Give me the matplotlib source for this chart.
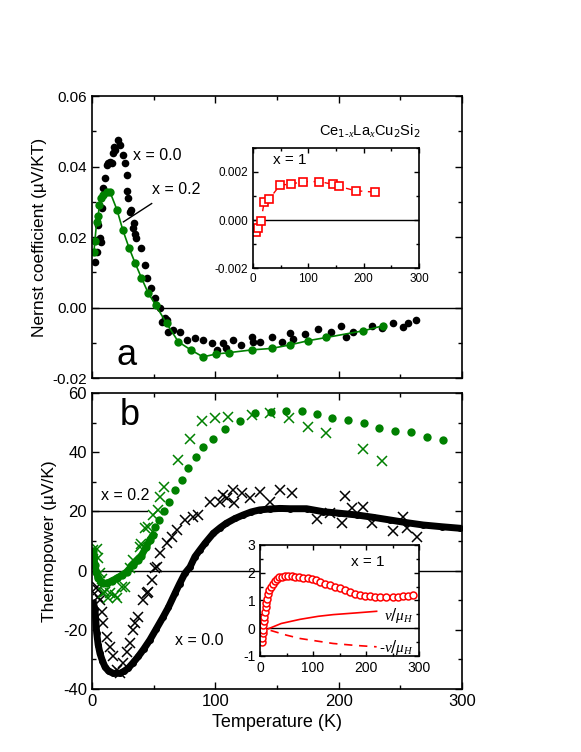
import matplotlib
matplotlib.use("Agg")
import matplotlib.pyplot as plt
from matplotlib.ticker import MultipleLocator, FormatStrFormatter

plt.rcParams["font.family"] = ["Liberation Sans", "DejaVu Sans"]
plt.rcParams["axes.unicode_minus"] = False
plt.rcParams["mathtext.fontset"] = "custom"
plt.rcParams["mathtext.it"] = "Liberation Serif:italic"

GREEN = "#008000"
RED = "#ff0000"

# ---- panel a: Nernst coefficient ----
t_n00 = [2.4, 3.8, 5, 6.5, 7, 7.8, 9, 10.5, 12, 12.7, 14.6, 16, 17, 17.5, 19, 21,
         22.7, 25, 26.8, 28, 28.6, 29.5, 31, 32, 33, 34, 35, 36, 40, 43, 45, 48,
         51, 55, 56.5, 59, 60.5, 62, 66, 71, 77, 83.5, 90, 97, 101, 106, 109,
         114.5, 121, 129.5, 130.5, 136, 145.7, 154, 160.5, 163, 173, 183, 194,
         202, 205.7, 211.7, 226.7, 235, 244, 252, 256, 263]
n_n00 = [0.0129, 0.0157, 0.0234, 0.0197, 0.0185, 0.0282, 0.034, 0.0367, 0.0404,
         0.041, 0.0413, 0.041, 0.0438, 0.0455, 0.0447, 0.0475, 0.046, 0.0433,
         0.041, 0.0376, 0.033, 0.031, 0.027, 0.0277, 0.0225, 0.024, 0.021,
         0.0197, 0.0169, 0.012, 0.0084, 0.0055, 0.0027, 0.0, -0.004, -0.003,
         -0.0036, -0.0069, -0.0064, -0.0069, -0.0092, -0.0087, -0.0092, -0.0101,
         -0.012, -0.0101, -0.0115, -0.0092, -0.0106, -0.0083, -0.0097, -0.0097,
         -0.0083, -0.0097, -0.0073, -0.0089, -0.0075, -0.0061, -0.0069, -0.0052,
         -0.0083, -0.0069, -0.0052, -0.0058, -0.0043, -0.0055, -0.0044, -0.0035]

t_n02 = [1.6, 2.4, 3.8, 5.1, 5.9, 7.3, 9, 12, 14.6, 20.3, 25, 30, 35, 40, 45.5,
         51.6, 60.5, 70, 80, 90, 100.5, 111, 130, 145.7, 160.5, 175.4, 190, 220,
         235.7]
n_n02 = [0.0158, 0.019, 0.0243, 0.026, 0.029, 0.031, 0.0319, 0.0329, 0.0328,
         0.0277, 0.022, 0.017, 0.0126, 0.0085, 0.0042, 0.0007, -0.0045, -0.0097,
         -0.012, -0.014, -0.0132, -0.0128, -0.012, -0.0116, -0.0106, -0.0094,
         -0.0085, -0.0066, -0.0052]

# inset a: x = 1
t_n10 = [5.4, 9.6, 14.5, 20, 29.5, 49, 68, 90, 120, 144, 154.6, 185.7, 220.6]
n_n10 = [-0.00051, -0.00032, -0.00004, 0.00074, 0.00088, 0.00146, 0.00149,
         0.0016, 0.0016, 0.00149, 0.0014, 0.00122, 0.00116]

# ---- panel b: thermopower ----
t_s02_dense = [0.8, 1.5, 2.4, 3.5, 5, 7, 9, 12, 16, 20, 24, 28, 33, 37, 40, 44,
               47, 49.6]
s_s02_dense = [6.5, 4.5, 2.0, -0.5, -2.5, -3.8, -4.3, -4.3, -3.5, -2.6, -1.6,
               -0.5, 1.9, 3.6, 5.0, 8.0, 10.5, 12.0]
t_s02 = [51, 54.6, 58.4, 62.7, 67.3, 72.7, 78, 84.3, 90.3, 98, 108, 120, 132.5,
         145, 157.3, 170, 182.7, 195, 208, 220.5, 233, 245.7, 259, 271.4, 284.4]
s_s02 = [14.8, 17, 20.2, 23.3, 27.2, 30.6, 34.5, 38.5, 41.9, 44.5, 47.9, 50.5,
         53.1, 53.6, 54, 53.8, 52.9, 51.4, 50.9, 49.8, 48.3, 47.3, 46.9, 45.2,
         44.1]

t_x02 = [1, 3.8, 5, 6.5, 7.8, 9.2, 10.5, 13.2, 14.6, 18.6, 20, 24, 27, 31, 33.5,
         39, 40, 43, 45.7, 49.7, 53.8, 55, 58.6, 70, 79.6, 89.4, 99.8, 110.5,
         129.5, 144.3, 160, 175.4, 190, 220, 235]
s_x02 = [7, 7.2, 4.3, -0.8, -3, -7.7, -7.1, -9.4, -7.7, -8.2, -9.4, -5.4, -5.4,
         0.9, 3.6, 8, 9, 14.3, 14.8, 18.8, 20.5, 25, 28.3, 37.4, 44.4, 50.5, 51.4,
         52, 52.6, 53.1, 51.4, 48.6, 46.4, 41.2, 37.1]

t_s00 = [1.2, 2.4, 3.8, 5, 6.5, 8.5, 10.5, 13.5, 17.3, 22.7, 26, 29.4, 33, 37.6,
         42, 47, 52, 57.8, 62, 67.3, 71, 75.4, 79.5, 83.5, 87.6, 91.6, 98.4, 104,
         109, 116, 122.7, 129, 136, 144, 152.4, 160.5, 174, 187.5, 200, 214.6,
         228, 241.6, 255, 268.6, 284, 298.4]
s_s00 = [-11, -13, -21, -25, -28, -30.5, -32.5, -34, -34.7, -34.7, -34, -33,
         -31.3, -29, -26.5, -23.4, -19.8, -15.6, -12.4, -7.7, -4.5, -0.9, 1.2,
         4.7, 7, 9.2, 12.6, 14.5, 16, 17.6, 18.8, 19.8, 20.5, 20.8, 21, 20.9,
         20.9, 19.9, 19.4, 18.8, 18, 17.1, 16.2, 15.4, 14.8, 14.3]

t_x00 = [3.8, 5.1, 5, 6.5, 7.8, 9.2, 12, 14.6, 17.3, 20, 22.7, 25.3, 28, 30.8,
         33.5, 34.9, 37.6, 41.6, 44.3, 45.7, 48.4, 51, 52.4, 55, 60.5, 64.6,
         68.6, 75.4, 82.2, 86.2, 95.7, 103.8, 106.5, 109.2, 114.6, 115.1, 121.4,
         128, 136.2, 144.3, 152.4, 162, 182.2, 193, 202.5, 205, 210.5, 219.5,
         226.8, 243.8, 252.4, 255.7, 263.3]
s_x00 = [-5.4, -6.6, -8.8, -9.9, -13.9, -17.8, -22.3, -25.7, -29, -33.6, -34.7,
         -31.3, -27.4, -24.6, -20, -17.8, -15.6, -9.9, -7.7, -7.1, -3.2, 0.8,
         1.3, 5.8, 9.2, 11.5, 13.7, 17.1, 18.2, 18.8, 23.3, 23.3, 25.5, 24.4,
         27.2, 22.7, 26.1, 24.4, 26.7, 23.3, 27.2, 26.1, 17.3, 19.6, 16.2, 25.2,
         21, 21.4, 16.2, 13.5, 18.2, 14.3, 11.5]

# inset b: x = 1
t_s10 = [3.2, 4, 5, 5.6, 6.3, 7.2, 8.1, 9.4, 10.7, 12.2, 13.8, 15.6, 17.5, 20.5,
         23.9, 27.5, 31.4, 36, 40.9, 47, 53.4, 60, 66, 74, 81.8, 90, 97.5, 105,
         113, 122, 132, 141, 151, 160, 170, 180, 189, 198, 207.5, 217, 226, 238,
         251.5, 260, 270, 280, 289]
s_s10 = [-0.49, -0.35, -0.19, -0.05, 0.11, 0.26, 0.41, 0.6, 0.77, 0.92, 1.07,
         1.22, 1.37, 1.5, 1.61, 1.71, 1.79, 1.83, 1.85, 1.88, 1.89, 1.88, 1.85,
         1.84, 1.82, 1.8, 1.77, 1.72, 1.67, 1.61, 1.55, 1.5, 1.45, 1.37, 1.29,
         1.23, 1.19, 1.16, 1.15, 1.13, 1.12, 1.12, 1.12, 1.13, 1.15, 1.16, 1.19]
t_nu = [15.7, 40, 75.5, 110, 138, 180, 220]
s_nu = [-0.02, 0.17, 0.32, 0.43, 0.49, 0.55, 0.61]
t_mnu = [20, 50, 75.5, 110, 138, 180, 220]
s_mnu = [-0.08, -0.25, -0.37, -0.47, -0.55, -0.62, -0.67]


def style_axes(ax, xmaj, xmin, ymaj, ymin, size=10, length=5):
    ax.xaxis.set_major_locator(MultipleLocator(xmaj))
    ax.xaxis.set_minor_locator(MultipleLocator(xmin))
    ax.yaxis.set_major_locator(MultipleLocator(ymaj))
    ax.yaxis.set_minor_locator(MultipleLocator(ymin))
    ax.tick_params(which="both", direction="in", top=True, right=True,
                   labelsize=size, width=1)
    ax.tick_params(which="major", length=length)
    ax.tick_params(which="minor", length=length * 0.6)
    for sp in ax.spines.values():
        sp.set_linewidth(1.2)


fig = plt.figure(figsize=(5.81, 7.52), dpi=100)
ax_a = fig.add_axes([0.1583, 0.4973, 0.6368, 0.375])
ax_b = fig.add_axes([0.1583, 0.0838, 0.6368, 0.3936])

# panel a
ax_a.axhline(0, color="black", lw=1)
ax_a.plot(t_n00, n_n00, "o", color="black", ms=5.5, mew=0)
ax_a.plot(t_n02, n_n02, "-o", color=GREEN, ms=6, mew=0, lw=1.2)
ax_a.set_xlim(0, 300)
ax_a.set_ylim(-0.02, 0.06)
style_axes(ax_a, 100, 50, 0.02, 0.01, size=11)
ax_a.yaxis.set_major_formatter(FormatStrFormatter("%.2f"))
ax_a.tick_params(labelbottom=False)
ax_a.set_ylabel("Nernst coefficient (\u00b5V/KT)", fontsize=12.5)
ax_a.text(33, 0.043, "x = 0.0", fontsize=11.5, va="center")
ax_a.text(48.6, 0.0335, "x = 0.2", fontsize=11.5, va="center")
ax_a.plot([48.4, 25.5], [0.0295, 0.0243], color="black", lw=1)
ax_a.text(19.5, -0.0135, "a", fontsize=26, va="center")
ax_a.text(266, 0.05, "Ce$_{1\u2010x}$La$_x$Cu$_2$Si$_2$", fontsize=10.5,
          ha="right", va="center")

ins_a = fig.add_axes([0.4355, 0.6436, 0.2857, 0.1596])
ins_a.axhline(0, color="black", lw=1)
ins_a.plot(t_n10, n_n10, "--s", color=RED, mfc="white", mec=RED, ms=6,
           mew=1.2, lw=1, dashes=(4, 4))
ins_a.set_xlim(0, 300)
ins_a.set_ylim(-0.002, 0.003)
style_axes(ins_a, 100, 50, 0.002, 0.001, size=8.5, length=3.5)
ins_a.yaxis.set_major_formatter(FormatStrFormatter("%.3f"))
ins_a.text(36, 0.0025, "x = 1", fontsize=11, va="center")

# panel b
ax_b.axhline(0, color="black", lw=1)
ax_b.plot([0, 45], [20, 20], color="black", lw=1)
ax_b.plot(t_s00, s_s00, "-o", color="black", ms=5, mew=0, lw=5)
ax_b.plot(t_x00, s_x00, "x", color="black", ms=7, mew=1.1)
ax_b.plot(t_s02_dense, s_s02_dense, "-o", color=GREEN, ms=6, mew=0, lw=5)
ax_b.plot(t_s02, s_s02, "o", color=GREEN, ms=6, mew=0)
ax_b.plot(t_x02, s_x02, "x", color=GREEN, ms=7, mew=1.1)
ax_b.set_xlim(0, 300)
ax_b.set_ylim(-40, 60)
style_axes(ax_b, 100, 50, 20, 10, size=12)
ax_b.set_xlabel("Temperature (K)", fontsize=13)
ax_b.set_ylabel("Thermopower (\u00b5V/K)", fontsize=12.5)
ax_b.text(7, 25.5, "x = 0.2", fontsize=11.5, va="center")
ax_b.text(67, -23.5, "x = 0.0", fontsize=11.5, va="center")
ax_b.text(22.5, 52.5, "b", fontsize=26, va="center")

ins_b = fig.add_axes([0.4475, 0.1277, 0.2737, 0.1476])
ins_b.axhline(0, color="black", lw=1)
ins_b.plot(t_nu, s_nu, "-", color=RED, lw=1.2)
ins_b.plot(t_mnu, s_mnu, "--", color=RED, lw=1.2, dashes=(5, 4))
ins_b.plot(t_s10, s_s10, "o", color=RED, mfc="white", mec=RED, ms=5, mew=1.1)
ins_b.set_xlim(0, 300)
ins_b.set_ylim(-1, 3)
style_axes(ins_b, 100, 50, 1, 0.5, size=10, length=3.5)
ins_b.text(172, 2.4, "x = 1", fontsize=11, va="center")
ins_b.text(290, 0.45, "$\\nu/\\mu_H$", fontsize=11, ha="right", va="center")
ins_b.text(290, -0.7, "-$\\nu/\\mu_H$", fontsize=11, ha="right", va="center")

fig.savefig("out.png", dpi=100)
